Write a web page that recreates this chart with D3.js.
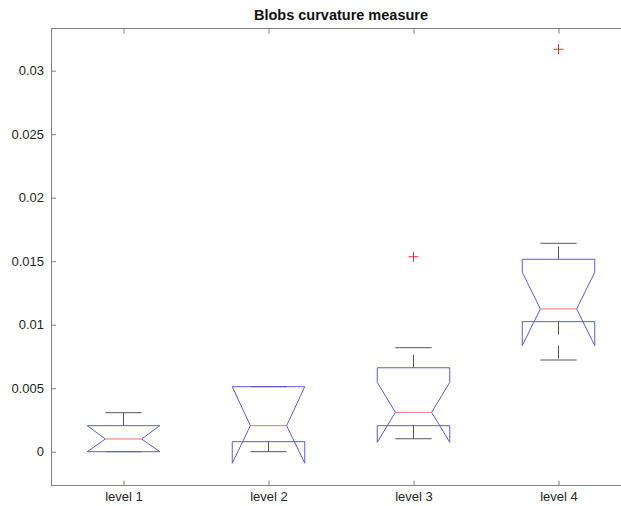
<!DOCTYPE html>
<html><head><meta charset="utf-8">
<script src="https://cdn.jsdelivr.net/npm/d3@7"></script>
<style>body{margin:0;background:#fff}svg{display:block}</style>
</head><body>
<script>
const categories = ["level 1","level 2","level 3","level 4"];
const upperAdj = [0.00307, 0.00512, 0.00819, 0.01641];
const q3 = [0.00205, 0.00512, 0.00661, 0.01515];
const medians = [0.00100, 0.00205, 0.00310, 0.01124];
const q1 = [0.00000, 0.00079, 0.00205, 0.01024];
const lowerAdj = [0.00000, 0.00000, 0.00102, 0.00722];
const notchLo = [0.00000, -0.00091, 0.00074, 0.00835];
const notchHi = [0.00205, 0.00512, 0.00546, 0.01413];
const outliers = [[], [], [0.01535], [0.03169]];
const yTicks = [0, 0.005, 0.01, 0.015, 0.02, 0.025, 0.03];
const yTickLabels = ["0","0.005","0.01","0.015","0.02","0.025","0.03"];
const title = "Blobs curvature measure";

const W = 621, H = 506;
const L = 51, R = 631, T = 28.7, B = 485.7;
const font = "'Liberation Sans', Arial, Helvetica, sans-serif";
const svg = d3.select("body").append("svg").attr("width", W).attr("height", H);
const x = d3.scaleLinear().domain([0.5, 4.5]).range([L, R]);
const y = d3.scaleLinear().domain([-0.002677, 0.033307]).range([B, T]);
const axisColor = "#808080", blue = "#5b5be0", red = "#f07070", wcol = "#555";

// axes box
svg.append("rect").attr("x", L).attr("y", T).attr("width", R - L).attr("height", B - T)
  .attr("fill", "none").attr("stroke", axisColor).attr("stroke-width", 1).attr("shape-rendering","crispEdges");

const xs = categories.map((c, i) => i + 1);
const xAxisB = d3.axisBottom(x).tickValues(xs).tickFormat((d, i) => categories[i]).tickSizeInner(-5).tickSizeOuter(0).tickPadding(6);
const gxb = svg.append("g").attr("transform", `translate(0,${B})`).call(xAxisB);
gxb.select(".domain").remove();
gxb.selectAll("line").attr("stroke", axisColor);
gxb.selectAll("text").attr("fill", "#262626").attr("font-family", font).attr("font-size", "13px");
const xAxisT = d3.axisTop(x).tickValues(xs).tickFormat("").tickSizeInner(-5).tickSizeOuter(0);
const gxt = svg.append("g").attr("transform", `translate(0,${T})`).call(xAxisT);
gxt.select(".domain").remove();
gxt.selectAll("line").attr("stroke", axisColor);

const yAxis = d3.axisLeft(y).tickValues(yTicks).tickFormat((d, i) => yTickLabels[i]).tickSizeInner(-5).tickSizeOuter(0).tickPadding(7);
const gy = svg.append("g").attr("transform", `translate(${L},0)`).call(yAxis);
gy.select(".domain").remove();
gy.selectAll("line").attr("stroke", axisColor);
gy.selectAll("text").attr("fill", "#262626").attr("font-family", font).attr("font-size", "13px");

const hw = 0.25, nw = 0.125, cw = 0.125;
const g = svg.append("g");
categories.forEach((c, i) => {
  const cx = i + 1;
  g.append("line").attr("x1", x(cx)).attr("x2", x(cx)).attr("y1", y(q3[i])).attr("y2", y(upperAdj[i]))
    .attr("stroke", wcol).attr("stroke-width", 1).attr("stroke-dasharray", "13,11");
  g.append("line").attr("x1", x(cx)).attr("x2", x(cx)).attr("y1", y(q1[i])).attr("y2", y(lowerAdj[i]))
    .attr("stroke", wcol).attr("stroke-width", 1).attr("stroke-dasharray", "13,11");
  [upperAdj[i], lowerAdj[i]].forEach(v => {
    g.append("line").attr("x1", x(cx - cw)).attr("x2", x(cx + cw)).attr("y1", y(v)).attr("y2", y(v))
      .attr("stroke", wcol).attr("stroke-width", 1);
  });
  const pts = [
    [cx - hw, q1[i]], [cx - hw, notchLo[i]], [cx - nw, medians[i]], [cx - hw, notchHi[i]], [cx - hw, q3[i]],
    [cx + hw, q3[i]], [cx + hw, notchHi[i]], [cx + nw, medians[i]], [cx + hw, notchLo[i]], [cx + hw, q1[i]], [cx - hw, q1[i]]
  ];
  g.append("path").attr("d", d3.line().x(d => x(d[0])).y(d => y(d[1]))(pts))
    .attr("fill", "none").attr("stroke", blue).attr("stroke-width", 1);
  g.append("line").attr("x1", x(cx - nw)).attr("x2", x(cx + nw)).attr("y1", y(medians[i])).attr("y2", y(medians[i]))
    .attr("stroke", red).attr("stroke-width", 1);
  outliers[i].forEach(v => {
    const px = x(cx), py = y(v);
    g.append("path").attr("d", `M${px - 5},${py}H${px + 5}M${px},${py - 5}V${py + 5}`)
      .attr("stroke", "#f03030").attr("stroke-width", 1).attr("fill", "none");
  });
});

svg.append("text").attr("x", (L + R) / 2).attr("y", 20).attr("text-anchor", "middle")
  .attr("font-family", font).attr("font-size", "14.5px").attr("font-weight", "bold").attr("fill", "#111").text(title);
</script>
</body></html>
